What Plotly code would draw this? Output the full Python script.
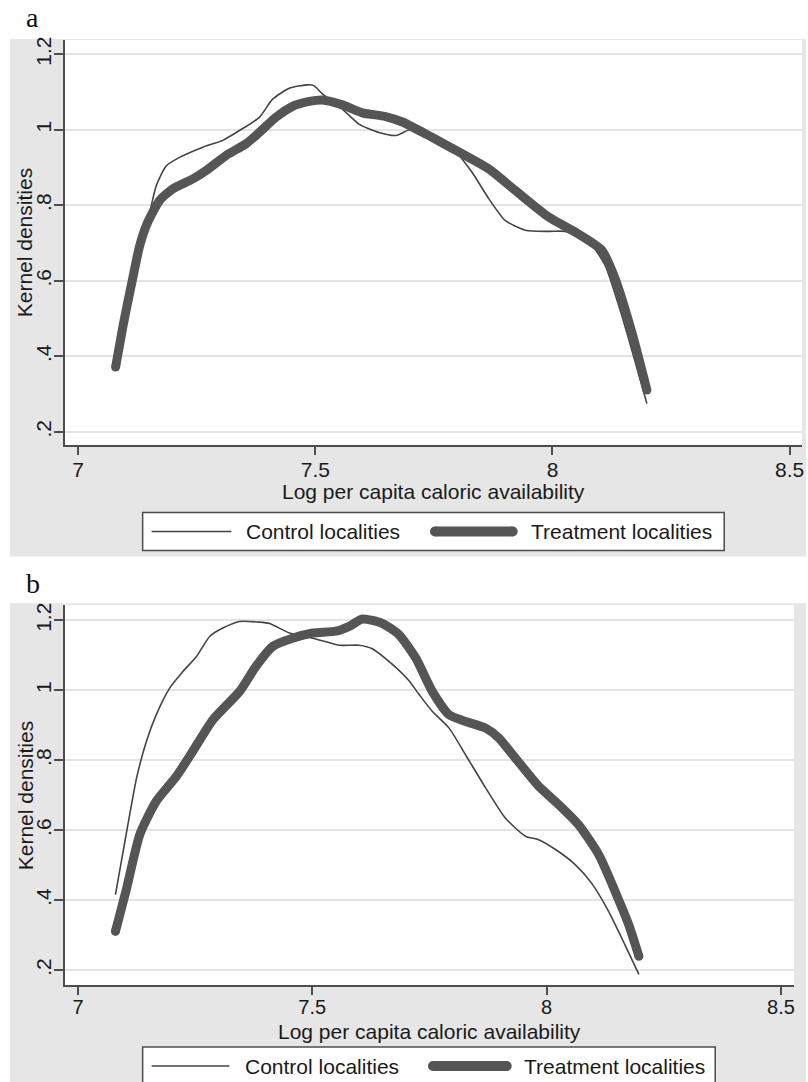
import plotly.graph_objects as go

# ---------------- data ----------------
series_names = ["Control localities", "Treatment localities"]
x_title = "Log per capita caloric availability"
y_title = "Kernel densities"
panel_labels = ["a", "b"]

x_ticks = [7, 7.5, 8, 8.5]
x_ticktext = ["7", "7.5", "8", "8.5"]
y_ticks = [0.2, 0.4, 0.6, 0.8, 1.0, 1.2]
y_ticktext = [".2", ".4", ".6", ".8", "1", "1.2"]

# Panel a
a_control_x = [7.079, 7.095, 7.112, 7.128, 7.144, 7.165, 7.186, 7.214, 7.263, 7.305,
               7.340, 7.382, 7.410, 7.445, 7.484, 7.497, 7.515, 7.557, 7.592, 7.634,
               7.670, 7.704, 7.746, 7.790, 7.830, 7.866, 7.900, 7.943, 7.992, 8.027,
               8.055, 8.083, 8.111, 8.146, 8.199]
a_control_y = [0.370, 0.485, 0.590, 0.695, 0.745, 0.853, 0.905, 0.927, 0.954, 0.972,
               0.998, 1.033, 1.081, 1.110, 1.119, 1.117, 1.095, 1.055, 1.015, 0.993,
               0.985, 1.002, 0.980, 0.950, 0.888, 0.817, 0.760, 0.734, 0.731, 0.731,
               0.716, 0.694, 0.641, 0.509, 0.275]
a_treat_x = [7.079, 7.095, 7.112, 7.130, 7.147, 7.172, 7.200, 7.242, 7.270, 7.312,
             7.354, 7.382, 7.417, 7.452, 7.487, 7.515, 7.557, 7.599, 7.648, 7.685,
             7.746, 7.803, 7.866, 7.922, 7.992, 8.048, 8.104, 8.132, 8.167, 8.199]
a_treat_y = [0.372, 0.483, 0.588, 0.694, 0.756, 0.813, 0.844, 0.870, 0.892, 0.932,
             0.963, 0.993, 1.033, 1.062, 1.075, 1.079, 1.066, 1.045, 1.035, 1.020,
             0.980, 0.941, 0.896, 0.839, 0.769, 0.729, 0.681, 0.606, 0.465, 0.311]

# Panel b
b_control_x = [7.080, 7.104, 7.125, 7.146, 7.167, 7.196, 7.224, 7.253, 7.281, 7.309,
               7.345, 7.387, 7.409, 7.451, 7.501, 7.557, 7.600, 7.628, 7.671,
               7.706, 7.728, 7.756, 7.792, 7.827, 7.870, 7.912, 7.955, 7.983, 8.019,
               8.061, 8.096, 8.132, 8.167, 8.197]
b_control_y = [0.416, 0.597, 0.749, 0.854, 0.930, 1.007, 1.054, 1.097, 1.154, 1.178,
               1.197, 1.195, 1.191, 1.164, 1.149, 1.129, 1.129, 1.119, 1.074,
               1.028, 0.988, 0.940, 0.892, 0.816, 0.721, 0.635, 0.583, 0.573, 0.545,
               0.502, 0.449, 0.369, 0.273, 0.188]
b_treat_x = [7.080, 7.104, 7.132, 7.167, 7.210, 7.245, 7.288, 7.345, 7.380, 7.416,
             7.458, 7.501, 7.550, 7.579, 7.607, 7.650, 7.685, 7.721, 7.756, 7.792,
             7.827, 7.870, 7.898, 7.933, 7.983, 8.026, 8.068, 8.111, 8.146, 8.175, 8.197]
b_treat_y = [0.311, 0.435, 0.588, 0.683, 0.754, 0.826, 0.916, 0.997, 1.069, 1.126,
             1.149, 1.164, 1.169, 1.183, 1.204, 1.191, 1.159, 1.092, 0.997, 0.930,
             0.911, 0.892, 0.864, 0.807, 0.726, 0.673, 0.616, 0.531, 0.426, 0.331, 0.240]

# ---------------- layout constants (pixels) ----------------
W, H = 808, 1082
FONT = "Liberation Sans, Arial, sans-serif"
SERIF = "Liberation Serif, Times New Roman, serif"
LINE_COL = "#555555"
AXIS_COL = "#4d4d4d"
GRID_COL = "#e4e4e4"
BG_GRAY = "#e6e6e6"
TXT = "#1a1a1a"


def px_x(p):
    return p / W


def px_y(p):
    return 1 - p / H


panels = [
    dict(data=(a_control_x, a_control_y, a_treat_x, a_treat_y),
         plot=(65, 804, 37, 443), xr=[6.972, 8.526], yr=[0.166, 1.238],
         bg=(10, 808, 36, 555), label_y=15, xtick_size=21, xtick_off=-3,
         title_y=490, ytitle_x=24, leg_mid=530,
         legend=dict(box=(143, 726, 511, 549), c_line=(152, 232), c_text=245,
                     t_line=(432, 518), t_text=530)),
    dict(data=(b_control_x, b_control_y, b_treat_x, b_treat_y),
         plot=(65, 796, 604, 985), xr=[6.972, 8.528], yr=[0.157, 1.243],
         bg=(10, 808, 602, 1082), label_y=582, xtick_size=20, xtick_off=-5,
         title_y=1031, ytitle_x=25, leg_mid=1066,
         legend=dict(box=(143, 717, 1047, 1088), c_line=(152, 230), c_text=244,
                     t_line=(430, 512), t_text=523)),
]

fig = go.Figure()
shapes = []
annotations = []

for i, p in enumerate(panels):
    n = "" if i == 0 else str(i + 1)
    cx, cy, tx, ty = p["data"]
    xa, ya = "x" + n, "y" + n
    fig.add_trace(go.Scatter(x=cx, y=cy, mode="lines", name=series_names[0],
                             line=dict(color="#444444", width=1.6, shape="spline", smoothing=0.6),
                             xaxis=xa, yaxis=ya, showlegend=False))
    fig.add_trace(go.Scatter(x=tx, y=ty, mode="lines", name=series_names[1],
                             line=dict(color=LINE_COL, width=9, shape="spline", smoothing=0.6),
                             xaxis=xa, yaxis=ya, showlegend=False))
    # rounded caps at both ends of the thick line
    fig.add_trace(go.Scatter(x=[tx[0], tx[-1]], y=[ty[0], ty[-1]], mode="markers",
                             marker=dict(color=LINE_COL, size=9, line=dict(width=0)),
                             xaxis=xa, yaxis=ya, showlegend=False, hoverinfo="skip"))

    l, r, t, b = p["plot"]
    xdom = [px_x(l), px_x(r)]
    ydom = [px_y(b), px_y(t)]
    fig.update_layout({
        "xaxis" + n: dict(domain=xdom, range=p["xr"], anchor=ya, showgrid=False, zeroline=False,
                          showline=True, linecolor=AXIS_COL, linewidth=1.5,
                          ticks="outside", ticklen=8, tickwidth=1.5, tickcolor=AXIS_COL,
                          tickvals=x_ticks, ticktext=x_ticktext, ticklabelstandoff=p["xtick_off"],
                          tickfont=dict(family=FONT, size=p["xtick_size"], color=TXT)),
        "yaxis" + n: dict(domain=ydom, range=p["yr"], anchor=xa, showgrid=True, gridcolor=GRID_COL,
                          gridwidth=1.5, zeroline=False, showline=True, linecolor=AXIS_COL,
                          linewidth=1.5, ticks="outside", ticklen=9, tickwidth=1.5,
                          tickcolor=AXIS_COL, tickvals=y_ticks, ticktext=y_ticktext,
                          tickangle=-90, ticklabelstandoff=-5,
                          tickfont=dict(family=FONT, size=21, color=TXT)),
    })

    # gray outer background
    bl, br, bt, bb = p["bg"]
    shapes.append(dict(type="rect", xref="paper", yref="paper", layer="below",
                       x0=px_x(bl), x1=px_x(br), y0=px_y(bb), y1=px_y(bt),
                       fillcolor=BG_GRAY, line=dict(width=0)))
    # white plot area
    shapes.append(dict(type="rect", xref="paper", yref="paper", layer="below",
                       x0=px_x(l), x1=px_x(r), y0=px_y(b), y1=px_y(t),
                       fillcolor="white", line=dict(width=0)))

    # panel label
    annotations.append(dict(text=panel_labels[i], xref="paper", yref="paper",
                            x=px_x(24), y=px_y(p["label_y"]), xanchor="left", yanchor="middle",
                            showarrow=False, font=dict(family=SERIF, size=28, color="#111111")))
    # x title
    annotations.append(dict(text=x_title, xref="paper", yref="paper",
                            x=px_x((l + r) / 2), y=px_y(p["title_y"]), xanchor="center",
                            yanchor="middle", showarrow=False,
                            font=dict(family=FONT, size=21, color=TXT)))
    # y title
    annotations.append(dict(text=y_title, xref="paper", yref="paper",
                            x=px_x(p["ytitle_x"]), y=px_y((t + b) / 2), xanchor="center",
                            yanchor="middle", textangle=-90, showarrow=False,
                            font=dict(family=FONT, size=21, color=TXT)))

    # legend
    lg = p["legend"]
    x0, x1, y0, y1 = lg["box"]
    ymid = p["leg_mid"]
    shapes.append(dict(type="rect", xref="paper", yref="paper",
                       x0=px_x(x0), x1=px_x(x1), y0=px_y(y1), y1=px_y(y0),
                       fillcolor="white", line=dict(color=AXIS_COL, width=1.5)))
    shapes.append(dict(type="line", xref="paper", yref="paper",
                       x0=px_x(lg["c_line"][0]), x1=px_x(lg["c_line"][1]),
                       y0=px_y(ymid), y1=px_y(ymid), line=dict(color="#444444", width=1.6)))
    shapes.append(dict(type="line", xref="paper", yref="paper",
                       x0=px_x(lg["t_line"][0] + 4), x1=px_x(lg["t_line"][1] - 4),
                       y0=px_y(ymid), y1=px_y(ymid), line=dict(color=LINE_COL, width=10)))
    for cxp in (lg["t_line"][0] + 4, lg["t_line"][1] - 4):
        shapes.append(dict(type="circle", xref="paper", yref="paper",
                           x0=px_x(cxp - 5), x1=px_x(cxp + 5), y0=px_y(ymid + 5), y1=px_y(ymid - 5),
                           fillcolor=LINE_COL, line=dict(width=0)))
    annotations.append(dict(text=series_names[0], xref="paper", yref="paper",
                            x=px_x(lg["c_text"]), y=px_y(ymid), xanchor="left", yanchor="middle",
                            showarrow=False, font=dict(family=FONT, size=21, color=TXT)))
    annotations.append(dict(text=series_names[1], xref="paper", yref="paper",
                            x=px_x(lg["t_text"]), y=px_y(ymid), xanchor="left", yanchor="middle",
                            showarrow=False, font=dict(family=FONT, size=21, color=TXT)))

fig.update_layout(width=W, height=H, margin=dict(l=0, r=0, t=0, b=0),
                  paper_bgcolor="white", plot_bgcolor="white",
                  shapes=shapes, annotations=annotations, showlegend=False)

# remove the browser's default 8px body margin so the figure sits at the page origin
fig.write_html("out.html", config={"displayModeBar": False},
               post_script="document.body.style.margin='0';document.body.style.padding='0';")
